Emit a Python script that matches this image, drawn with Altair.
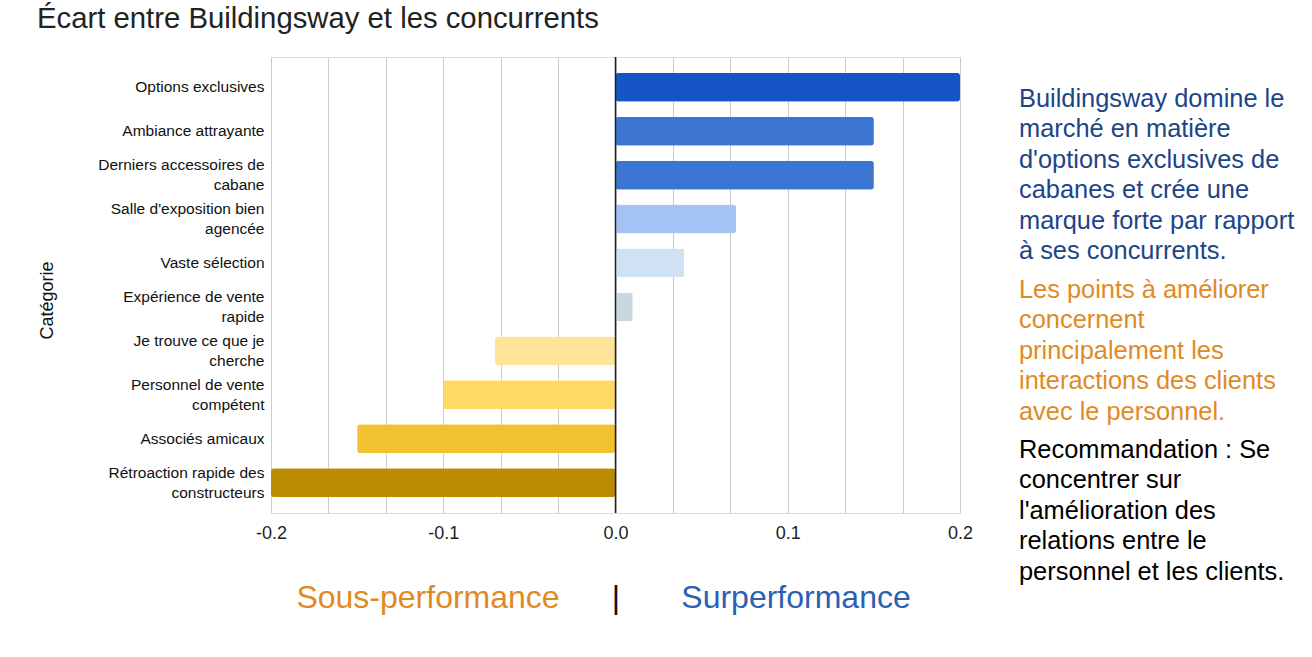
import altair as alt
import pandas as pd

# Gap between Buildingsway and competitors, per category
categories = [
    "Options exclusives",
    "Ambiance attrayante",
    "Derniers accessoires de\ncabane",
    "Salle d'exposition bien\nagencée",
    "Vaste sélection",
    "Expérience de vente\nrapide",
    "Je trouve ce que je\ncherche",
    "Personnel de vente\ncompétent",
    "Associés amicaux",
    "Rétroaction rapide des\nconstructeurs",
]
gaps = [0.20, 0.15, 0.15, 0.07, 0.04, 0.01, -0.07, -0.10, -0.15, -0.20]
bar_colors = [
    "#1555c6", "#3c75d2", "#3c75d2", "#a4c2f4", "#cfe2f3",
    "#c9d7de", "#ffe599", "#ffd966", "#f0c130", "#bb8c02",
]

# Grid every 1/30, labels only on the tenths
grid_values = [k / 30 for k in range(-6, 7)]

title_text = "Écart entre Buildingsway et les concurrents"
note_strength = [
    "Buildingsway domine le",
    "marché en matière",
    "d'options exclusives de",
    "cabanes et crée une",
    "marque forte par rapport",
    "à ses concurrents.",
]
note_weakness = [
    "Les points à améliorer",
    "concernent",
    "principalement les",
    "interactions des clients",
    "avec le personnel.",
]
note_reco = [
    "Recommandation : Se",
    "concentrer sur",
    "l'amélioration des",
    "relations entre le",
    "personnel et les clients.",
]
under_label = "Sous-performance"
over_label = "Surperformance"

FONT = "Liberation Sans"
W, H = 689, 456
LEFT, TOP = 271, 57
ORANGE = "#e08a26"

df = pd.DataFrame({"Catégorie": categories, "Écart": gaps})
one = pd.DataFrame({"k": [0]})

x_scale = alt.Scale(domain=[-0.2, 0.2], nice=False, zero=False)

bars = alt.Chart(df).mark_bar(cornerRadius=3).encode(
    x=alt.X(
        "Écart:Q",
        scale=x_scale,
        axis=alt.Axis(
            title=None,
            values=grid_values,
            labelExpr=(
                "abs(datum.value*10 - round(datum.value*10)) < 0.001"
                " ? replace(format(datum.value, '.1f'), '\u2212', '-') : ''"
            ),
            labelFlush=False,
            labelOverlap=False,
            grid=True,
            gridColor="#cccccc",
            gridWidth=1,
            domain=False,
            ticks=False,
            tickSize=0,
            labelPadding=11,
            labelFontSize=18,
            labelFont=FONT,
            labelColor="#222222",
        ),
    ),
    y=alt.Y(
        "Catégorie:N",
        sort=categories,
        scale=alt.Scale(paddingInner=0.34, paddingOuter=0.36),
        axis=alt.Axis(
            title="Catégorie",
            titleFont=FONT,
            titleFontSize=18,
            titleFontWeight="normal",
            titleColor="#111111",
            titleAngle=-90,
            titleX=-224,
            titleY=243,
            titleAlign="center",
            titleBaseline="middle",
            labelExpr="split(datum.label, '\\n')",
            labelOffset={
                "condition": {"test": "indexof(datum.value, '\\n') >= 0", "value": -10},
                "value": 0,
            },
            labelFont=FONT,
            labelFontSize=15.5,
            labelLineHeight=20,
            labelColor="#111111",
            labelPadding=7,
            labelLimit=300,
            domain=False,
            ticks=False,
            tickSize=0,
            grid=False,
        ),
    ),
    color=alt.Color(
        "Catégorie:N",
        scale=alt.Scale(domain=categories, range=bar_colors),
        legend=None,
    ),
)

zero_line = alt.Chart(pd.DataFrame({"Écart": [0.0]})).mark_rule(
    color="#222222", strokeWidth=1.5
).encode(x=alt.X("Écart:Q", scale=x_scale))

title = alt.Chart(one).mark_text(
    text=title_text, font=FONT, fontSize=29.3, color="#222222",
    align="left", baseline="alphabetic",
).encode(x=alt.value(37 - LEFT), y=alt.value(28 - TOP))


def note(lines, color, y_baseline):
    return alt.Chart(one).mark_text(
        text=lines, font=FONT, fontSize=25.4, lineHeight=30.4, color=color,
        align="left", baseline="alphabetic",
    ).encode(x=alt.value(1019 - LEFT), y=alt.value(y_baseline - TOP))


notes = (
    note(note_strength, "#1c4587", 107)
    + note(note_weakness, ORANGE, 298)
    + note(note_reco, "#000000", 458)
)


def bottom(text, color, x_center):
    return alt.Chart(one).mark_text(
        text=text, font=FONT, fontSize=32, color=color,
        align="center", baseline="alphabetic",
    ).encode(x=alt.value(x_center - LEFT), y=alt.value(608 - TOP))


bottoms = (
    bottom(under_label, ORANGE, 428)
    + bottom("|", "#111111", 616)
    + bottom(over_label, "#2b60b3", 796)
)

chart = (
    alt.layer(bars, zero_line, title, notes, bottoms)
    .properties(
        width=W,
        height=H,
        autosize=alt.AutoSizeParams(type="none"),
        padding={"left": LEFT, "top": TOP, "right": 1312 - LEFT - W, "bottom": 657 - TOP - H},
    )
    .configure_view(stroke="transparent", strokeWidth=0)
    .configure(background="white")
)

chart.save("out.html", embed_options={"renderer": "svg", "actions": False})
